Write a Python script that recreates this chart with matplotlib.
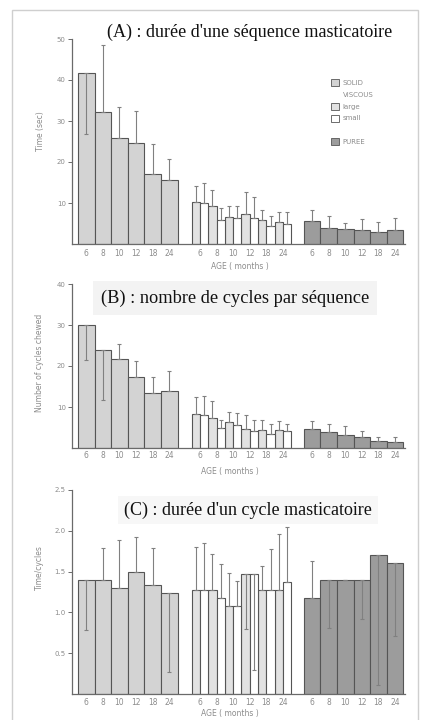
import matplotlib
matplotlib.use('Agg')
import matplotlib.pyplot as plt
from matplotlib.patches import Patch, Rectangle

ages = ['6', '8', '10', '12', '18', '24']

# ---- Panel A : Time (sec)
a_solid = [41.8, 32.2, 25.8, 24.7, 17.1, 15.7]
a_solid_up = [0, 16.3, 7.5, 7.8, 7.2, 5.1]
a_solid_dn = [15.0, 0, 0, 0, 0, 0]
a_large = [10.2, 9.3, 6.5, 7.2, 5.9, 5.4]
a_large_up = [4.0, 3.9, 2.8, 5.6, 2.4, 2.3]
a_large_dn = [0, 0, 0, 0, 0, 0]
a_small = [10.1, 5.85, 6.3, 6.3, 4.4, 4.8]
a_small_up = [4.7, 3.0, 3.0, 5.2, 2.5, 3.1]
a_small_dn = [0, 0, 0, 0, 0, 0]
a_puree = [5.6, 4.0, 3.6, 3.4, 2.85, 3.4]
a_puree_up = [2.7, 2.8, 1.6, 2.6, 2.55, 3.0]
a_puree_dn = [0, 0, 0, 0, 0, 0]

# ---- Panel B : Number of cycles chewed
b_solid = [29.9, 23.8, 21.8, 17.2, 13.3, 13.9]
b_solid_up = [0, 0, 3.6, 4.0, 4.0, 4.8]
b_solid_dn = [8.5, 12.2, 0, 0, 0, 0]
b_large = [8.3, 7.2, 6.3, 4.7, 4.5, 4.5]
b_large_up = [4.1, 4.2, 2.5, 3.3, 2.4, 2.0]
b_large_dn = [0, 0, 0, 0, 0, 0]
b_small = [8.0, 4.9, 5.7, 4.1, 3.5, 4.1]
b_small_up = [4.6, 2.0, 2.8, 2.8, 2.4, 1.8]
b_small_dn = [0, 0, 0, 0, 0, 0]
b_puree = [4.7, 3.8, 3.1, 2.6, 1.6, 1.5]
b_puree_up = [2.0, 2.1, 2.2, 1.5, 1.0, 1.3]
b_puree_dn = [0, 0, 0, 0, 0, 0]

# ---- Panel C : Time/cycles
c_solid = [1.40, 1.40, 1.30, 1.49, 1.34, 1.24]
c_solid_up = [0, 0.39, 0.59, 0.44, 0.45, 0]
c_solid_dn = [0.62, 0, 0, 0, 0, 0.97]
c_large = [1.28, 1.28, 1.08, 1.47, 1.27, 1.27]
c_large_up = [0.52, 0.44, 0.40, 0, 0.30, 0.69]
c_large_dn = [0, 0, 0, 0.67, 0, 0]
c_small = [1.28, 1.18, 1.08, 1.47, 1.27, 1.37]
c_small_up = [0.57, 0.41, 0.30, 0, 0.51, 0.68]
c_small_dn = [0, 0, 0, 1.17, 0, 0]
c_puree = [1.18, 1.40, 1.40, 1.40, 1.70, 1.60]
c_puree_up = [0.45, 0, 0, 0, 0, 0]
c_puree_dn = [0, 0.59, 0, 0.48, 1.59, 0.89]

titles = ["(A) : durée d'une séquence masticatoire",
          "(B) : nombre de cycles par séquence",
          "(C) : durée d'un cycle masticatoire"]
ylabels = ['Time (sec)', 'Number of cycles chewed', 'Time/cycles']
xlabel = 'AGE ( months )'
legend_labels = ['SOLID', 'VISCOUS', 'large', 'small', '', 'PUREE']

C_SOLID = '#d3d3d3'
C_LARGE = '#e2e2e2'
C_SMALL = '#ffffff'
C_PUREE = '#9c9c9c'
EDGE = '#555555'
ERR = '#808080'
TXT = '#8c8c8c'

W, H = 426, 720
fig = plt.figure(figsize=(W / 100, H / 100), dpi=100)
fig.patch.set_facecolor('white')
fig.patches.append(Rectangle((12 / W, -0.01), (418 - 12) / W, 1.01 - 10 / H,
                             transform=fig.transFigure, fill=False,
                             edgecolor='#cfcfcf', lw=1.0))

solid_x = [i + 0.5 for i in range(6)]
large_x = [6.85 + i + 0.25 for i in range(6)]
small_x = [6.85 + i + 0.75 for i in range(6)]
pair_x = [6.85 + i + 0.5 for i in range(6)]
puree_x = [13.6 + i + 0.5 for i in range(6)]


def px_axes(y0, y1):
    # y0: pixel of data-zero, y1: pixel of axis top
    return [72 / W, 1 - y0 / H, (405 - 72) / W, (y0 - y1) / H]


def draw(ax, groups, ylim, yticks, ytl, ylabel, ylab_pos, xlab_pos, tick_pad):
    for xs, vals, up, dn, col, w in groups:
        ax.bar(xs, vals, width=w, color=col, edgecolor=EDGE, linewidth=0.8, zorder=2)
        ax.errorbar(xs, vals, yerr=[dn, up], fmt='none', ecolor=ERR,
                    elinewidth=0.8, capsize=1.4, capthick=0.8, zorder=3)
    ax.set_xlim(-0.36, 19.7)
    ax.set_ylim(*ylim)
    ax.set_yticks(yticks)
    ax.set_yticklabels(ytl)
    ax.set_xticks(solid_x + pair_x + puree_x)
    ax.set_xticklabels(ages * 3)
    for s in ['top', 'right']:
        ax.spines[s].set_visible(False)
    for s in ['left', 'bottom']:
        ax.spines[s].set_color('#6a6a6a')
        ax.spines[s].set_linewidth(0.9)
    ax.tick_params(axis='y', direction='out', length=3, width=0.7,
                   colors='#6a6a6a', labelcolor=TXT, labelsize=5, pad=1.5)
    ax.tick_params(axis='x', length=0, labelcolor=TXT, labelsize=5.5, pad=tick_pad)
    ax.set_ylabel(ylabel, color=TXT, fontsize=5.5)
    ax.yaxis.set_label_coords(*ylab_pos)
    ax.set_xlabel(xlabel, color=TXT, fontsize=5.5)
    ax.xaxis.set_label_coords(*xlab_pos)
    ax.set_facecolor('none')


# Panel A
axA = fig.add_axes(px_axes(244, 39))
draw(axA,
     [(solid_x, a_solid, a_solid_up, a_solid_dn, C_SOLID, 1.0),
      (large_x, a_large, a_large_up, a_large_dn, C_LARGE, 0.5),
      (small_x, a_small, a_small_up, a_small_dn, C_SMALL, 0.5),
      (puree_x, a_puree, a_puree_up, a_puree_dn, C_PUREE, 1.0)],
     (0, 50), [10, 20, 30, 40, 50], ['10', '20', '30', '40', '50'],
     ylabels[0], (-0.08, 0.55), (0.505, -0.088), 3.5)

# Panel B
axB = fig.add_axes(px_axes(448, 284))
draw(axB,
     [(solid_x, b_solid, b_solid_up, b_solid_dn, C_SOLID, 1.0),
      (large_x, b_large, b_large_up, b_large_dn, C_LARGE, 0.5),
      (small_x, b_small, b_small_up, b_small_dn, C_SMALL, 0.5),
      (puree_x, b_puree, b_puree_up, b_puree_dn, C_PUREE, 1.0)],
     (0, 40), [10, 20, 30, 40], ['10', '20', '30', '40'],
     ylabels[1], (-0.085, 0.52), (0.474, -0.114), 2.0)

# Panel C
axC = fig.add_axes(px_axes(694, 490))
draw(axC,
     [(solid_x, c_solid, c_solid_up, c_solid_dn, C_SOLID, 1.0),
      (large_x, c_large, c_large_up, c_large_dn, C_LARGE, 0.5),
      (small_x, c_small, c_small_up, c_small_dn, C_SMALL, 0.5),
      (puree_x, c_puree, c_puree_up, c_puree_dn, C_PUREE, 1.0)],
     (0, 2.5), [0.5, 1.0, 1.5, 2.0, 2.5], ['0.5', '1.0', '1.5', '2.0', '2.5'],
     ylabels[2], (-0.085, 0.62), (0.474, -0.072), 3.0)

# Legend in panel A
handles = [Patch(facecolor=C_SOLID, edgecolor=EDGE, lw=0.6),
           Patch(facecolor='none', edgecolor='none'),
           Patch(facecolor=C_LARGE, edgecolor=EDGE, lw=0.6),
           Patch(facecolor=C_SMALL, edgecolor=EDGE, lw=0.6),
           Patch(facecolor='none', edgecolor='none'),
           Patch(facecolor=C_PUREE, edgecolor=EDGE, lw=0.6)]
leg = axA.legend(handles, legend_labels, loc='upper left',
                 bbox_to_anchor=((331 - 72) / 333, (244 - 79) / 205),
                 frameon=False, fontsize=5, handlelength=1.15, handleheight=1.15,
                 handletextpad=0.5, labelspacing=0.72, borderpad=0, borderaxespad=0)
for t in leg.get_texts():
    t.set_color(TXT)

# Titles
serif = ['Liberation Serif', 'DejaVu Serif']
fig.text(250 / W, 1 - 32 / H, titles[0], ha='center', va='center',
         fontsize=13, family=serif, color='#111111')
fig.text(235 / W, 1 - 298 / H, titles[1], ha='center', va='center',
         fontsize=13.2, family=serif, color='#111111',
         bbox=dict(facecolor='#f3f3f3', edgecolor='none', pad=6))
fig.text(248 / W, 1 - 510 / H, titles[2], ha='center', va='center',
         fontsize=13, family=serif, color='#111111',
         bbox=dict(facecolor='#f7f7f7', edgecolor='none', pad=4))

fig.savefig('out.png', dpi=100, facecolor='white')
